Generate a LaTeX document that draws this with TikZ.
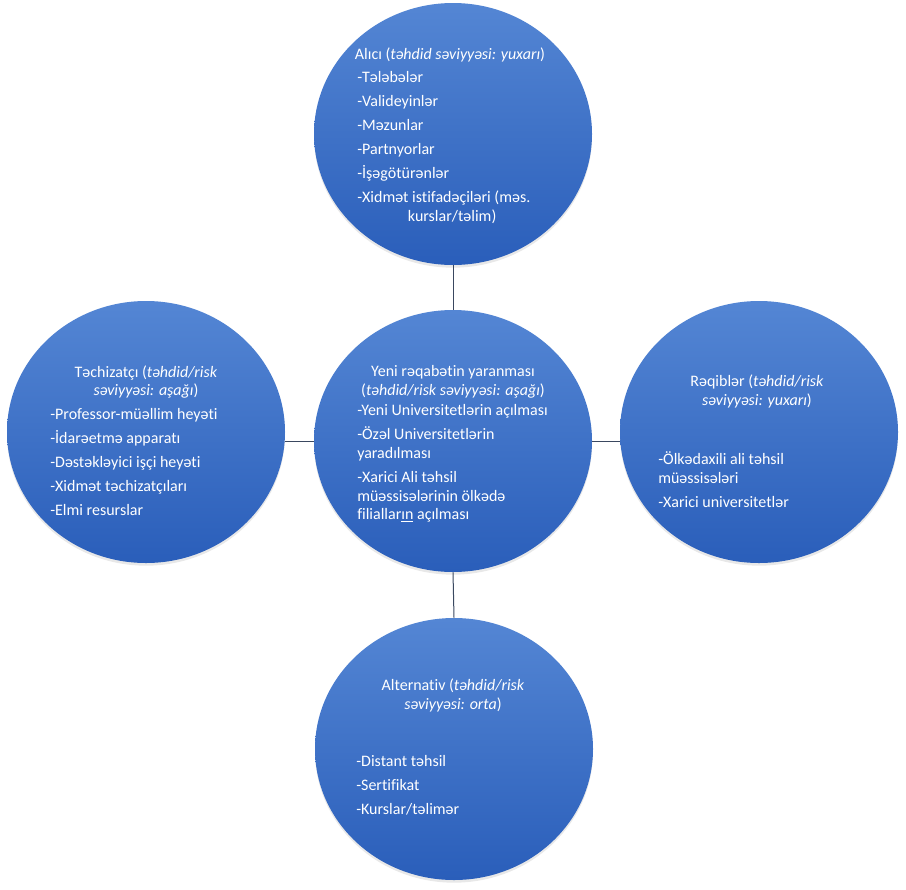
\documentclass[tikz,border=0pt]{standalone}
\usepackage{fontspec}
\setmainfont{Carlito}[Ligatures=CommonOff]
\usetikzlibrary{shapes.geometric,shadows}

\definecolor{circtop}{RGB}{84,134,212}
\definecolor{circbot}{RGB}{42,94,186}
\definecolor{linkcol}{RGB}{58,72,96}

% fixed height of the first line, so the node top sits 10pt above its baseline
\newcommand{\firstln}{\rule{0pt}{10pt}}

\tikzset{
    circ/.style={ellipse, minimum width=208.5pt, minimum height=196.5pt, inner sep=0pt,
        top color=circtop, bottom color=circbot,
        drop shadow={opacity=0.18, shadow xshift=0pt, shadow yshift=-2pt}},
    heading/.style={text=white, align=center, anchor=north, inner sep=0pt,
        font=\fontsize{12}{14}\selectfont},
    bullets/.style={text=white, align=left, anchor=north west, inner sep=0pt,
        font=\fontsize{12}{14}\selectfont},
    link/.style={draw=linkcol, line width=0.75pt}
}

\begin{document}
\begin{tikzpicture}[x=0.75pt, y=-0.75pt]
    \useasboundingbox (0,0) rectangle (906,889);

    \node[circ] (alici) at (453,134) {};
    \node[circ] (yeni) at (453,441) {};
    \node[circ] (techizatci) at (146,432) {};
    \node[circ] (reqib) at (759,432) {};
    \node[circ] (alternativ) at (454,749) {};

    \draw[link] (alici.south) -- (yeni.north);
    \draw[link] (yeni.south) -- (alternativ.north);
    \draw[link] (yeni.west) -- (yeni.west -| techizatci.east);
    \draw[link] (yeni.east) -- (yeni.east -| reqib.west);

    % Alıcı
    \node[heading] (alici title) at (450,46.2) {\firstln Alıcı (\textit{təhdid səviyyəsi: yuxarı})};
    \node[bullets] (alici list) at (357,69.2) {\firstln -Tələbələr\\[4pt]
        -Valideyinlər\\[4pt] -Məzunlar\\[4pt] -Partnyorlar\\[4pt]
        -İşəgötürənlər\\[4pt] -Xidmət istifadəçiləri (məs.\\
        \hspace*{38pt}kurslar/təlim)};

    % Yeni rəqabət
    \node[heading] (yeni title) at (453,363.2) {\firstln Yeni rəqabətin yaranması\\
        (\textit{təhdid/risk səviyyəsi: aşağı})};
    \node[bullets] (yeni list) at (357,402.2) {\firstln -Yeni Universitetlərin açılması\\[4pt]
        -Özəl Universitetlərin\\ yaradılması\\[4pt]
        -Xarici Ali təhsil\\ müəssisələrinin ölkədə\\ filiallar\underline{ın} açılması};

    % Təchizatçı
    \node[heading] (techizatci title) at (146,363.5) {\firstln Təchizatçı (\textit{təhdid/risk}\\
        \textit{səviyyəsi: aşağı})};
    \node[bullets] (techizatci list) at (50,406.2) {\firstln -Professor-müəllim heyəti\\[4pt]
        -İdarəetmə apparatı\\[4pt] -Dəstəkləyici işçi heyəti\\[4pt]
        -Xidmət təchizatçıları\\[4pt] -Elmi resurslar};

    % Rəqiblər
    \node[heading] (reqib title) at (757,373.2) {\firstln Rəqiblər (\textit{təhdid/risk}\\
        \textit{səviyyəsi: yuxarı})};
    \node[bullets] (reqib list) at (658,451.2) {\firstln -Ölkədaxili ali təhsil\\
        müəssisələri\\[4pt] -Xarici universitetlər};

    % Alternativ
    \node[heading] (alternativ title) at (453,677.2) {\firstln Alternativ (\textit{təhdid/risk}\\
        \textit{səviyyəsi: orta})};
    \node[bullets] (alternativ list) at (356,753.2) {\firstln -Distant təhsil\\[4pt]
        -Sertifikat\\[4pt] -Kurslar/təlimər};
\end{tikzpicture}
\end{document}
